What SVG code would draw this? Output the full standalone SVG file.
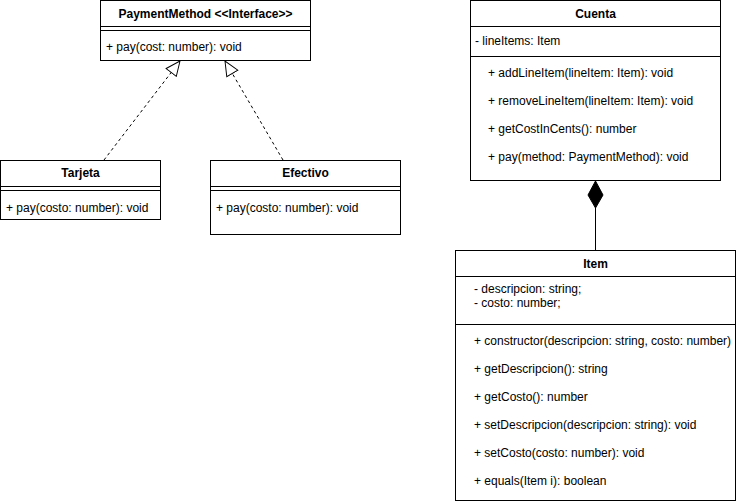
<svg xmlns="http://www.w3.org/2000/svg" width="736" height="504" viewBox="0 0 736 504">
<style>
.box{fill:#fff;stroke:#000;stroke-width:1}
.ln{stroke:#000;stroke-width:1;fill:none}
text{font-family:"Liberation Sans",Arial,Helvetica,sans-serif;font-size:12px;fill:#000}
.t{font-weight:bold;text-anchor:middle}
.dash{stroke:#000;stroke-width:1;fill:none;stroke-dasharray:3 3}
</style>
<defs>
<marker id="tri" viewBox="0 0 20 20" refX="19" refY="10" markerWidth="16" markerHeight="16" markerUnits="userSpaceOnUse" orient="auto">
<path d="M1,2 L19,10 L1,18 Z" fill="#fff" stroke="#000" stroke-width="1.2"/>
</marker>
</defs>
<rect width="736" height="504" fill="#fff"/>
<g id="connectors">
<line class="dash" x1="104" y1="160" x2="180" y2="61" marker-end="url(#tri)"/>
<line class="dash" x1="283" y1="160" x2="225" y2="61" marker-end="url(#tri)"/>
<line class="ln" x1="595.5" y1="208" x2="595.5" y2="250"/>
<path d="M595.5,181 L603,195 L595.5,208 L588,195 Z" fill="#000" stroke="#000"/>
</g>
<g id="PaymentMethod">
<rect class="box" x="100.5" y="0.5" width="210" height="60"/>
<line class="ln" x1="100.5" y1="26.5" x2="310.5" y2="26.5"/>
<line class="ln" x1="100.5" y1="30.5" x2="310.5" y2="30.5"/>
<text class="t" x="205.5" y="18">PaymentMethod &lt;&lt;Interface&gt;&gt;</text>
<text x="106" y="51">+ pay(cost: number): void</text>
</g>
<g id="Tarjeta">
<rect class="box" x="0.5" y="160.5" width="160" height="59"/>
<line class="ln" x1="0.5" y1="186.5" x2="160.5" y2="186.5"/>
<line class="ln" x1="0.5" y1="190.5" x2="160.5" y2="190.5"/>
<text class="t" x="80.5" y="177">Tarjeta</text>
<text x="6" y="212">+ pay(costo: number): void</text>
</g>
<g id="Efectivo">
<rect class="box" x="210.5" y="160.5" width="190" height="74"/>
<line class="ln" x1="210.5" y1="186.5" x2="400.5" y2="186.5"/>
<line class="ln" x1="210.5" y1="190.5" x2="400.5" y2="190.5"/>
<text class="t" x="305.5" y="177">Efectivo</text>
<text x="216" y="212">+ pay(costo: number): void</text>
</g>
<g id="Cuenta">
<rect class="box" x="470.5" y="0.5" width="250" height="180"/>
<line class="ln" x1="470.5" y1="26.5" x2="720.5" y2="26.5"/>
<line class="ln" x1="470.5" y1="56.5" x2="720.5" y2="56.5"/>
<text class="t" x="595.5" y="18">Cuenta</text>
<text x="475" y="45">- lineItems: Item</text>
<text x="488" y="77">+ addLineItem(lineItem: Item): void</text>
<text x="488" y="105">+ removeLineItem(lineItem: Item): void</text>
<text x="488" y="133">+ getCostInCents(): number</text>
<text x="488" y="161">+ pay(method: PaymentMethod): void</text>
</g>
<g id="Item">
<rect class="box" x="455.5" y="250.5" width="280" height="250"/>
<line class="ln" x1="455.5" y1="276.5" x2="735.5" y2="276.5"/>
<line class="ln" x1="455.5" y1="324.5" x2="735.5" y2="324.5"/>
<text class="t" x="595.5" y="268">Item</text>
<text x="474" y="293">- descripcion: string;</text>
<text x="474" y="307">- costo: number;</text>
<text x="474" y="345">+ constructor(descripcion: string, costo: number)</text>
<text x="474" y="373">+ getDescripcion(): string</text>
<text x="474" y="401">+ getCosto(): number</text>
<text x="474" y="429">+ setDescripcion(descripcion: string): void</text>
<text x="474" y="457">+ setCosto(costo: number): void</text>
<text x="474" y="485">+ equals(Item i): boolean</text>
</g>
</svg>
